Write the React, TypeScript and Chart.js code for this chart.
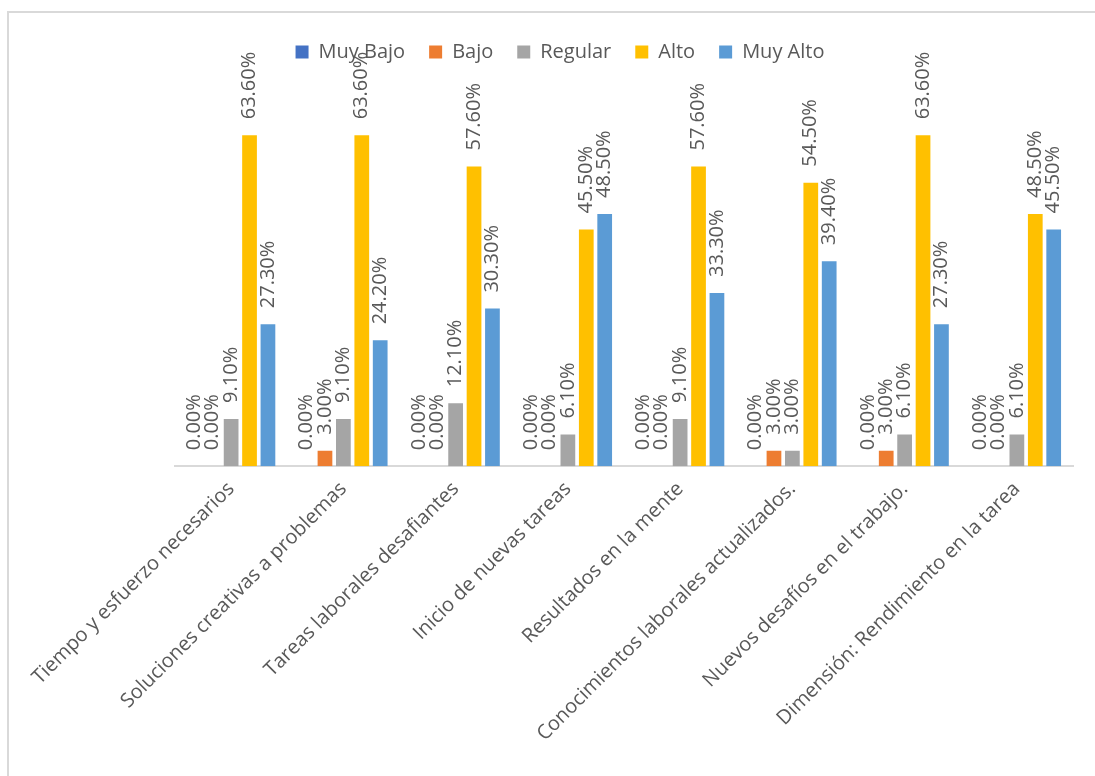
import React, { useEffect, useRef } from "react";
import { Chart, registerables } from "chart.js";

Chart.register(...registerables);

const categories: string[] = [
  "Tiempo y esfuerzo necesarios",
  "Soluciones creativas a problemas",
  "Tareas laborales desafiantes",
  "Inicio de nuevas tareas",
  "Resultados en la mente",
  "Conocimientos laborales actualizados.",
  "Nuevos desafíos en el trabajo.",
  "Dimensión: Rendimiento en la tarea",
];

const muyBajo: number[] = [0, 0, 0, 0, 0, 0, 0, 0];
const bajo: number[] = [0, 3.0, 0, 0, 0, 3.0, 3.0, 0];
const regular: number[] = [9.1, 9.1, 12.1, 6.1, 9.1, 3.0, 6.1, 6.1];
const alto: number[] = [63.6, 63.6, 57.6, 45.5, 57.6, 54.5, 63.6, 48.5];
const muyAlto: number[] = [27.3, 24.2, 30.3, 48.5, 33.3, 39.4, 27.3, 45.5];

const seriesNames: string[] = ["Muy Bajo", "Bajo", "Regular", "Alto", "Muy Alto"];
const seriesColors: string[] = ["#4472C4", "#ED7D31", "#A5A5A5", "#FFC000", "#5B9BD5"];
const yMax = 70;

const FONT = "'Open Sans', sans-serif";
const TEXT = "#595959";

const labelPlugin = {
  id: "barValueLabels",
  afterDatasetsDraw(chart: any) {
    const ctx = chart.ctx;
    ctx.save();
    ctx.font = `20px ${FONT}`;
    ctx.fillStyle = TEXT;
    ctx.textAlign = "left";
    ctx.textBaseline = "middle";
    chart.data.datasets.forEach((ds: any, di: number) => {
      const meta = chart.getDatasetMeta(di);
      meta.data.forEach((el: any, i: number) => {
        const v = ds.data[i] as number;
        ctx.save();
        ctx.translate(el.x, el.y - 16);
        ctx.rotate(-Math.PI / 2);
        ctx.fillText(v.toFixed(2) + "%", 0, 0);
        ctx.restore();
      });
    });
    ctx.restore();
  },
};

const legendSpacer = {
  id: "legendSpacer",
  beforeInit(chart: any) {
    const orig = chart.legend.fit;
    chart.legend.fit = function () {
      orig.bind(chart.legend)();
      this.height += 30;
    };
  },
};

export default function App() {
  const ref = useRef<HTMLCanvasElement | null>(null);
  useEffect(() => {
    if (!ref.current) return;
    const all = [muyBajo, bajo, regular, alto, muyAlto];
    const chart = new Chart(ref.current, {
      type: "bar",
      data: {
        labels: categories,
        datasets: all.map((d, i) => ({
          label: seriesNames[i],
          data: d,
          backgroundColor: seriesColors[i],
          barPercentage: 0.8,
          categoryPercentage: 0.82,
        })),
      },
      options: {
        animation: false,
        responsive: false,
        maintainAspectRatio: false,
        layout: { padding: { top: 18, left: 47, right: 22, bottom: 27 } },
        plugins: {
          legend: {
            position: "top",
            labels: {
              boxWidth: 13,
              boxHeight: 13,
              padding: 24,
              color: TEXT,
              font: { family: FONT, size: 20 },
            },
          },
          tooltip: { enabled: false },
        },
        scales: {
          x: {
            grid: { display: false },
            border: { display: true, color: "#d9d9d9", width: 2 },
            ticks: {
              color: TEXT,
              font: { family: FONT, size: 20 },
              minRotation: 45,
              maxRotation: 45,
              autoSkip: false,
            },
            afterFit(scale: any) {
              scale.paddingLeft = 175;
            },
          },
          y: {
            display: false,
            min: 0,
            max: yMax,
          },
        },
      },
      plugins: [labelPlugin, legendSpacer],
    });
    return () => chart.destroy();
  }, []);
  return (
    <div style={{ position: "fixed", left: 0, top: 0, width: 1095, height: 776, background: "#fff" }}>
      <div
        style={{
          position: "absolute",
          left: 7,
          top: 11,
          right: -10,
          bottom: -10,
          borderTop: "2px solid #d9d9d9",
          borderLeft: "2px solid #d9d9d9",
        }}
      />
      <canvas ref={ref} width={1095} height={776} style={{ position: "absolute", left: 0, top: 0 }} />
    </div>
  );
}
